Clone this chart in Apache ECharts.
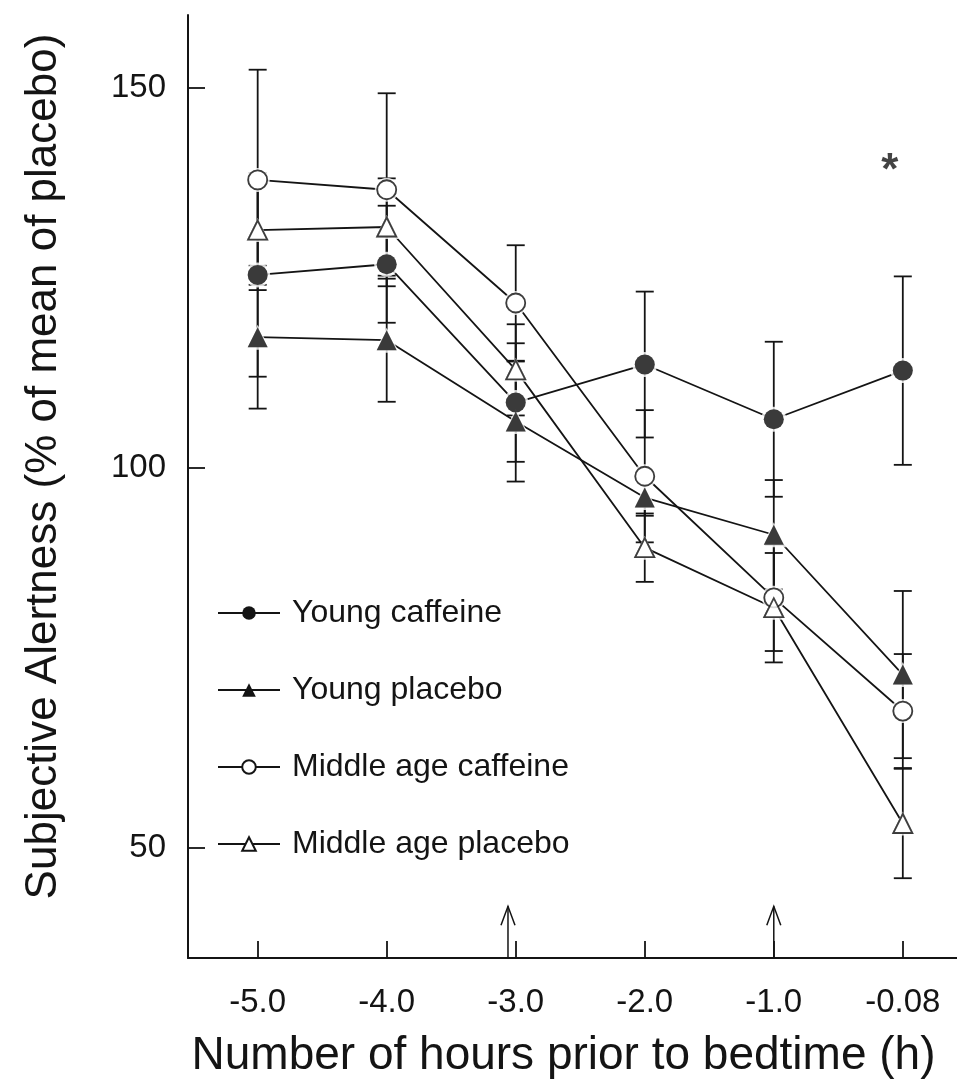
<!DOCTYPE html>
<html>
<head>
<meta charset="utf-8">
<script src="https://cdn.jsdelivr.net/npm/echarts@6/dist/echarts.min.js"></script>
<style>html,body{margin:0;padding:0;background:#fff;}#c{width:957px;height:1088px;}</style>
</head>
<body>
<div id="c"></div>
<script>
// ---- data ----
const categories = ['-5.0', '-4.0', '-3.0', '-2.0', '-1.0', '-0.08'];
const youngCaffeine     = [125.4, 126.8, 108.6, 113.6, 106.4, 112.8];
const youngCaffeineSE   = [13.4, 7.7, 7.8, 9.6, 10.2, 12.4];
const youngPlacebo      = [117.2, 116.8, 106.1, 96.1, 91.2, 72.8];
const youngPlaceboSE    = [9.4, 8.1, 7.9, 2.4, 7.2, 11.0];
const middleCaffeine    = [137.9, 136.6, 121.7, 98.9, 82.9, 68.0];
const middleCaffeineSE  = [14.5, 12.7, 7.6, 8.7, 7.0, 7.5];
const middlePlacebo     = [131.3, 131.7, 112.9, 89.5, 81.6, 53.2];
const middlePlaceboSE   = [7.2, 6.4, 6.0, 4.5, 7.2, 7.2];
const yTicks = [50, 100, 150];
const arrowPositions = [1.94, 4.0];   // arrows under -3.0 and -1.0
const arrowTopValue = 42.3;
const asteriskPoint = [5, 140];
const seriesNames = ['Young caffeine', 'Young placebo', 'Middle age caffeine', 'Middle age placebo'];

const INK = '#141414';
const FONT = 'Liberation Sans, Arial, sans-serif';
const Y_MIN = 35.5, Y_MAX = 159.6;

const groups = [
  { name: seriesNames[0], vals: youngCaffeine, se: youngCaffeineSE, symbol: 'circle', size: 20, filled: true },
  { name: seriesNames[1], vals: youngPlacebo, se: youngPlaceboSE, symbol: 'triangle', size: 20, filled: true },
  { name: seriesNames[2], vals: middleCaffeine, se: middleCaffeineSE, symbol: 'circle', size: 19, filled: false },
  { name: seriesNames[3], vals: middlePlacebo, se: middlePlaceboSE, symbol: 'triangle', size: 19, filled: false }
];

function markerStyle(g) {
  return g.filled
    ? { color: INK, borderColor: INK, borderWidth: 0 }
    : { color: '#fff', borderColor: INK, borderWidth: 1.8 };
}

const series = [];
// error bars
groups.forEach(function (g) {
  series.push({
    type: 'custom',
    name: g.name + ' SE',
    z: 1,
    silent: true,
    data: g.vals.map(function (v, i) { return [i, v - g.se[i], v + g.se[i]]; }),
    renderItem: function (params, api) {
      const x = api.value(0);
      const lo = api.coord([x, api.value(1)]);
      const hi = api.coord([x, api.value(2)]);
      const hw = 9;
      const st = { stroke: INK, lineWidth: 1.8 };
      return {
        type: 'group',
        children: [
          { type: 'line', shape: { x1: lo[0], y1: lo[1], x2: hi[0], y2: hi[1] }, style: st },
          { type: 'line', shape: { x1: lo[0] - hw, y1: lo[1], x2: lo[0] + hw, y2: lo[1] }, style: st },
          { type: 'line', shape: { x1: hi[0] - hw, y1: hi[1], x2: hi[0] + hw, y2: hi[1] }, style: st }
        ]
      };
    }
  });
});
// connecting lines (with symbols for the legend icon)
groups.forEach(function (g) {
  series.push({
    type: 'line',
    name: g.name,
    z: 2,
    data: g.vals.map(function (v, i) { return [i, v]; }),
    symbol: g.symbol,
    symbolSize: g.size,
    lineStyle: { color: INK, width: 1.8 },
    itemStyle: markerStyle(g),
    emphasis: { disabled: true },
    animation: false
  });
});
// white halos (gap around markers)
groups.forEach(function (g) {
  series.push({
    type: 'scatter',
    name: g.name + ' halo',
    z: 3,
    silent: true,
    data: g.vals.map(function (v, i) { return [i, v]; }),
    symbol: g.symbol,
    symbolSize: g.size + 5,
    itemStyle: { color: '#fff' },
    animation: false
  });
});
// markers on top
groups.forEach(function (g) {
  series.push({
    type: 'scatter',
    name: g.name + ' marker',
    z: 4,
    silent: true,
    data: g.vals.map(function (v, i) { return [i, v]; }),
    symbol: g.symbol,
    symbolSize: g.size,
    itemStyle: markerStyle(g),
    animation: false
  });
});
// arrows
series.push({
  type: 'custom',
  name: 'arrows',
  z: 2,
  silent: true,
  data: arrowPositions.map(function (x) { return [x, Y_MIN, arrowTopValue]; }),
  renderItem: function (params, api) {
    const b = api.coord([api.value(0), api.value(1)]);
    const t = api.coord([api.value(0), api.value(2)]);
    const st = { stroke: INK, lineWidth: 1.5, fill: 'none' };
    return {
      type: 'group',
      children: [
        { type: 'line', shape: { x1: b[0], y1: b[1], x2: t[0], y2: t[1] }, style: st },
        { type: 'polyline', shape: { points: [[t[0] - 7, t[1] + 19], [t[0], t[1]], [t[0] + 7, t[1] + 19]] }, style: st }
      ]
    };
  }
});
// significance asterisk
series.push({
  type: 'scatter',
  name: 'asterisk',
  z: 5,
  silent: true,
  symbolSize: 1,
  itemStyle: { color: 'rgba(0,0,0,0)' },
  data: [asteriskPoint],
  label: {
    show: true, position: 'inside', formatter: '*',
    fontSize: 44, fontWeight: 'bold', color: INK, fontFamily: FONT, offset: [-13, 8]
  }
});

const chart = echarts.init(document.getElementById('c'), null, { renderer: 'canvas' });
chart.setOption({
  backgroundColor: '#fff',
  animation: false,
  grid: { left: 188, right: 0, top: 15, bottom: 130, containLabel: false, outerBoundsMode: 'none' },
  legend: {
    data: seriesNames,
    orient: 'vertical',
    left: 212,
    top: 592,
    itemWidth: 62,
    itemHeight: 17,
    itemGap: 45,
    selectedMode: false,
    textStyle: { fontSize: 32, color: INK, fontFamily: FONT, padding: [0, 0, 0, 7] }
  },
  xAxis: {
    type: 'value',
    min: -0.54,
    max: 5.42,
    name: 'Number of hours prior to bedtime (h)',
    nameLocation: 'middle',
    nameGap: 75,
    nameTextStyle: { fontSize: 46, color: INK, fontFamily: FONT, padding: [0, 18, 0, 0] },
    splitLine: { show: false },
    axisLine: { show: true, onZero: false, lineStyle: { color: INK, width: 2 } },
    axisTick: { show: true, inside: true, length: 17, customValues: [0, 1, 2, 3, 4, 5], lineStyle: { color: INK, width: 1.8 } },
    axisLabel: {
      show: true, margin: 28, fontSize: 33, color: INK, fontFamily: FONT,
      customValues: [0, 1, 2, 3, 4, 5],
      formatter: function (v) { return categories[Math.round(v)]; }
    }
  },
  yAxis: {
    type: 'value',
    min: Y_MIN,
    max: Y_MAX,
    name: 'Subjective Alertness (% of mean of placebo)',
    nameLocation: 'middle',
    nameGap: 122,
    nameTextStyle: { fontSize: 44, color: INK, fontFamily: FONT, padding: [0, 0, 0, 40] },
    splitLine: { show: false },
    axisLine: { show: true, onZero: false, lineStyle: { color: INK, width: 2 } },
    axisTick: { show: true, inside: true, length: 17, customValues: yTicks, lineStyle: { color: INK, width: 1.8 } },
    axisLabel: { show: true, margin: 22, fontSize: 33, color: INK, fontFamily: FONT, customValues: yTicks }
  },
  series: series
});
</script>
</body>
</html>
